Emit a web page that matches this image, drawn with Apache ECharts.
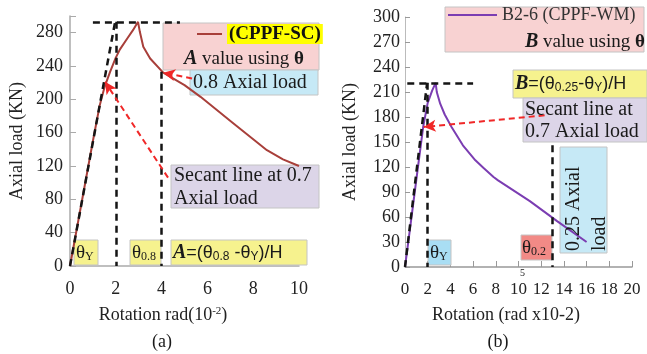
<!DOCTYPE html>
<html>
<head>
<meta charset="utf-8">
<script src="https://cdn.jsdelivr.net/npm/echarts@6/dist/echarts.min.js"></script>
<style>
  html, body { margin: 0; padding: 0; background: #fff; }
  #chart { width: 647px; height: 354px; }
</style>
</head>
<body>
<div id="chart"></div>
<script>
// (a) CPPF-SC curve
const rotA  = [0, 0.5, 1.0, 1.3, 1.5, 1.75, 2.0, 2.18, 2.5, 2.75, 2.97, 3.05, 3.2, 3.5, 4.07, 5.0, 5.7, 7.1, 8.6, 9.3, 10.0]
const loadA = [0, 75, 150, 193, 214, 233, 250, 260, 273, 283, 293, 281, 263, 249, 232, 217, 203, 172, 139, 128, 120]
// (b) B2-6 CPPF-WM curve
const rotB  = [0, 0.5, 1.0, 1.6, 2.0, 2.4, 2.7, 2.8, 3.1, 3.5, 4.1, 5.1, 6.2, 6.9, 7.8, 8.2, 11.0, 13.4, 16.0]
const loadB = [0, 52, 105, 168, 197, 212, 221, 210, 196, 183, 168, 146, 128, 119, 108, 104, 79, 55, 30]

// guide values
const peakA = 293, yieldRotA = 2.0, secantRotA = 1.97, rot08A = 4.0, load08A = 233
const peakB = 221, yieldRotB = 1.95, rot025B = 13, guideTopB = 146
const arrowsA = [[[5.33, 225], [4.07, 232]], [[4.28, 106], [1.53, 221]]]
const arrowsB = [[[12.3, 182], [1.65, 168]]]

const colA = '#a83f3a'
const colB = '#7b3db2'
const serif = 'Liberation Serif'
const sans = 'Liberation Sans'

const dash = { type: [7, 5], width: 2.5, color: '#151515' }
const redDash = { type: [6, 4], width: 2, color: '#f02828' }

function seg(p, q, style, arrow) {
  return [
    { coord: p, symbol: 'none', lineStyle: style },
    { coord: q, symbol: arrow ? 'arrow' : 'none', symbolSize: arrow ? [9, 12] : 0 }
  ]
}

const rich = {
  bi: { fontFamily: serif, fontWeight: 'bold', fontStyle: 'italic', fontSize: 20 },
  b: { fontFamily: serif, fontWeight: 'bold', fontSize: 19 },
  n: { fontFamily: serif, fontSize: 19 },
  f: { fontFamily: sans, fontSize: 18 },
  sub: { fontFamily: sans, fontSize: 12, verticalAlign: 'bottom' },
  ssub: { fontFamily: serif, fontSize: 12, verticalAlign: 'bottom' }
}

const g = []
function rect(x, y, w, h, fill) {
  g.push({ type: 'rect', z: 1, silent: true, shape: { x, y, width: w, height: h },
    style: { fill, stroke: '#c4c4c4', lineWidth: 1 } })
}
function note(x, y, text, extra) {
  g.push({ type: 'text', z: 20, silent: true, x, y,
    style: Object.assign({ text, fill: '#1a1a1a', fontFamily: serif, fontSize: 20,
      verticalAlign: 'middle', align: 'left', rich }, extra || {}) })
}

// panel (a) notes
rect(163, 23, 156, 47, '#f8d2d2')
note(184, 59, '{bi|A}{n| value using }{b|θ}')
rect(190, 70, 128, 25, '#c6e9f6')
note(193, 83, '{n2|0.8 Axial load}', { rich: { n2: { fontFamily: serif, fontSize: 20 } } })
rect(171, 165, 148, 43, '#dcd5e8')
note(174, 187, '{n2|Secant line at 0.7}\n{n2|Axial load}', { rich: { n2: { fontFamily: serif, fontSize: 20, lineHeight: 23 } } })
rect(74, 240, 24, 25, '#f6f28e')
note(76, 253, '{n|θ}{ssub|Y}')
rect(130, 240, 31, 25, '#f6f28e')
note(132, 253, '{n|θ}{ssub|0.8}')
rect(171, 240, 136, 25, '#f6f28e')
note(173, 253, '{bi|A}{f|=(θ}{sub|0.8}{f| -θ}{sub|Y}{f|)/H}')

// panel (b) notes
rect(445, 7, 199, 45, '#f8d2d2')
note(525, 42, '{bi|B}{n| value using }{b|θ}')
rect(513, 70, 134, 28, '#f6f28e')
note(515, 84, '{bi|B}{f|=(θ}{sub|0.25}{f|-θ}{sub|Y}{f|)/H}')
rect(523, 98, 124, 44, '#dcd5e8')
note(525, 121, '{n2|Secant line at}\n{n2|0.7 Axial load}', { rich: { n2: { fontFamily: serif, fontSize: 20, lineHeight: 22 } } })
rect(560, 147, 47, 106, '#c6e9f6')
g.push({ type: 'text', z: 20, silent: true, x: 561, y: 251, rotation: Math.PI / 2,
  style: { text: '{n2|0.25 Axial}\n{n2|load}', fill: '#1a1a1a', align: 'left', verticalAlign: 'top',
    rich: { n2: { fontFamily: serif, fontSize: 20, lineHeight: 26 } } } })
rect(428, 240, 23, 25, '#a9def4')
note(430, 253, '{n|θ}{ssub|Y}')
rect(521, 235, 31, 25, '#f28a86')
note(522, 248, '{n|θ}{ssub|0.2}')
note(520, 273, '{t|5}', { rich: { t: { fontFamily: serif, fontSize: 10 } } })

note(162, 342, '{t|(a)}', { align: 'center', rich: { t: { fontFamily: serif, fontSize: 18 } } })
note(498, 342, '{t|(b)}', { align: 'center', rich: { t: { fontFamily: serif, fontSize: 18 } } })

const labelStyle = { color: '#222', fontFamily: serif, fontSize: 18 }
const nameStyle = { color: '#222', fontFamily: serif, fontSize: 18 }

const chart = echarts.init(document.getElementById('chart'))
chart.setOption({
  animation: false,
  textStyle: { fontFamily: serif },
  grid: [
    { left: 70, top: 16, width: 229, height: 250 },
    { left: 405, top: 17, width: 227, height: 250 }
  ],
  legend: [
    { data: ['(CPPF-SC)'], left: 197, top: 24, padding: 0, icon: 'rect', itemWidth: 25, itemHeight: 2,
      selectedMode: false,
      textStyle: { fontFamily: serif, fontWeight: 'bold', fontSize: 19, color: '#111',
        backgroundColor: '#ffff00', padding: [1, 2, 0, 2] } },
    { data: ['B2-6 (CPPF-WM)'], left: 448, top: 6, padding: 0, icon: 'rect', itemWidth: 49, itemHeight: 2,
      selectedMode: false,
      textStyle: { fontFamily: serif, fontSize: 18, color: '#333' } }
  ],
  xAxis: [
    { gridIndex: 0, type: 'value', min: 0, max: 10, interval: 2,
      name: '{t|Rotation rad(10}{sup|-2}{t|)}', nameLocation: 'middle', nameGap: 40,
      nameTextStyle: Object.assign({ padding: [0, 43, 0, 0],
        rich: { t: { fontFamily: serif, fontSize: 18, color: '#222' },
          sup: { fontFamily: serif, fontSize: 11, color: '#222', verticalAlign: 'top' } } }, nameStyle),
      axisLine: { lineStyle: { color: '#aaa', width: 1.5 } },
      axisTick: { show: false },
      axisLabel: Object.assign({ margin: 14 }, labelStyle),
      splitLine: { show: false } },
    { gridIndex: 1, type: 'value', min: 0, max: 20, interval: 2,
      name: 'Rotation (rad x10-2)', nameLocation: 'middle', nameGap: 39,
      nameTextStyle: Object.assign({ padding: [0, 25, 0, 0] }, nameStyle),
      axisLine: { lineStyle: { color: '#999', width: 1.5 } },
      axisTick: { inside: true, length: 6, lineStyle: { color: '#999' } },
      axisLabel: Object.assign({ margin: 14 }, labelStyle, { fontSize: 17 }),
      splitLine: { show: false } }
  ],
  yAxis: [
    { gridIndex: 0, type: 'value', min: 0, max: 300, interval: 40,
      name: 'Axial load (KN)', nameLocation: 'middle', nameGap: 44, nameTextStyle: nameStyle,
      axisLine: { show: true, lineStyle: { color: '#aaa', width: 1.5 } },
      axisTick: { show: true, inside: true, length: 6, lineStyle: { color: '#aaa' },
        interval: (i, v) => Number(v) % 40 === 0 },
      axisLabel: Object.assign({ margin: 7, formatter: (v) => (v % 40 === 0 ? v : '') }, labelStyle),
      splitLine: { show: false } },
    { gridIndex: 1, type: 'value', min: 0, max: 300, interval: 30,
      name: 'Axial load (KN)', nameLocation: 'middle', nameGap: 46, nameTextStyle: nameStyle,
      axisLine: { show: true, lineStyle: { color: '#bbb', width: 1 } },
      axisTick: { show: true, inside: true, length: 5, lineStyle: { color: '#999' } },
      axisLabel: Object.assign({ margin: 5 }, labelStyle),
      splitLine: { show: false } }
  ],
  series: [
    { name: '(CPPF-SC)', type: 'line', xAxisIndex: 0, yAxisIndex: 0, z: 3,
      data: rotA.map((x, i) => [x, loadA[i]]),
      symbol: 'none', lineStyle: { color: colA, width: 2 }, itemStyle: { color: colA },
      markLine: { silent: true, animation: false, label: { show: false }, emphasis: { disabled: true },
        data: [
          seg([1.0, peakA], [4.8, peakA], dash),
          seg([0, 0], [secantRotA, peakA], dash),
          seg([yieldRotA, peakA], [yieldRotA, 0], dash),
          seg([rot08A, load08A], [rot08A, 0], dash),
          ...arrowsA.map((a) => seg(a[0], a[1], redDash, true))
        ] } },
    { name: 'B2-6 (CPPF-WM)', type: 'line', xAxisIndex: 1, yAxisIndex: 1, z: 3,
      data: rotB.map((x, i) => [x, loadB[i]]),
      symbol: 'none', lineStyle: { color: colB, width: 2 }, itemStyle: { color: colB },
      markLine: { silent: true, animation: false, label: { show: false }, emphasis: { disabled: true },
        data: [
          seg([0.2, peakB], [6.0, peakB], dash),
          seg([0, 0], [yieldRotB, peakB], dash),
          seg([yieldRotB, peakB], [yieldRotB, 0], dash),
          seg([rot025B, guideTopB], [rot025B, 0], dash),
          ...arrowsB.map((a) => seg(a[0], a[1], redDash, true))
        ] } }
  ],
  graphic: g
})
</script>
</body>
</html>
